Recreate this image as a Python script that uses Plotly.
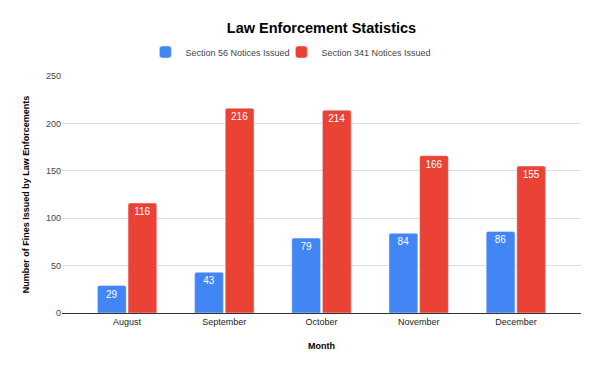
import plotly.graph_objects as go

months = ["August", "September", "October", "November", "December"]
section56 = [29, 43, 79, 84, 86]
section341 = [116, 216, 214, 166, 155]

FONT = "Arial, 'Liberation Sans', sans-serif"

fig = go.Figure()
fig.add_trace(go.Bar(
    x=months, y=section56, name="Section 56 Notices Issued",
    marker=dict(color="#4285F4"), legendwidth=91,
    text=section56, textposition="inside", insidetextanchor="end",
    textfont=dict(color="white", size=10, family=FONT),
    textangle=0,
))
fig.add_trace(go.Bar(
    x=months, y=section341, name="Section 341 Notices Issued",
    marker=dict(color="#EA4335"),
    text=section341, textposition="inside", insidetextanchor="end",
    textfont=dict(color="white", size=10, family=FONT),
    textangle=0,
))

fig.update_layout(
    width=600, height=370,
    margin=dict(l=62, r=19, t=76, b=57, autoexpand=False),
    paper_bgcolor="white", plot_bgcolor="white",
    font=dict(family=FONT, size=9, color="#444"),
    title=dict(text="<b>Law Enforcement Statistics</b>", x=0.5, xanchor="center",
               xref="paper",
               y=1 - 28 / 370, yanchor="middle", yref="container",
               font=dict(family=FONT, size=14.5, color="black")),
    legend=dict(orientation="h", x=0.441, xanchor="center", y=1 + 24 / 237, yanchor="middle",
                font=dict(family=FONT, size=9, color="#444"),
                itemwidth=30, traceorder="normal"),
    barmode="group", bargap=0.37, bargroupgap=0.06,
    barcornerradius=2,
    uniformtext=dict(minsize=8, mode="show"),
)
fig.update_xaxes(
    range=[-0.67, 4.67], showgrid=False, showline=True, linecolor="#333", linewidth=1,
    ticks="", tickfont=dict(family=FONT, size=9, color="#222"), automargin=False,
    title=dict(text="<b>Month</b>", font=dict(family=FONT, size=9, color="black"), standoff=16),
)
fig.update_yaxes(
    range=[0, 250], dtick=50, showgrid=True, gridcolor="#dcdcdc", gridwidth=1,
    zeroline=False, ticks="", tickfont=dict(family=FONT, size=9, color="#444"),
    automargin=False,
    title=dict(text="<b>Number of Fines Issued by Law Enforcements</b>",
               font=dict(family=FONT, size=9, color="black"), standoff=14),
)

fig.write_html("out.html", config={"displayModeBar": False},
               post_script="document.body.style.margin='0px';")
